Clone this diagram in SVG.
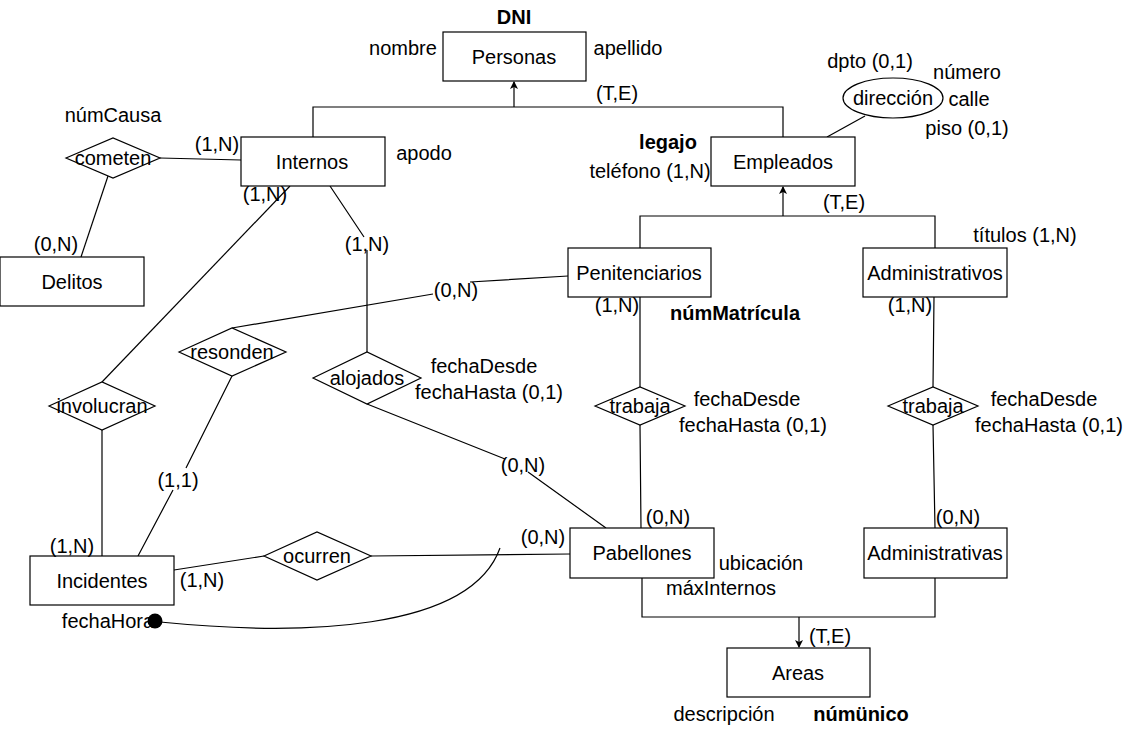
<svg xmlns="http://www.w3.org/2000/svg" width="1130" height="729" viewBox="0 0 1130 729">
<defs>
<style>
text{font-family:"Liberation Sans",Arial,sans-serif;font-size:20px;fill:#000;text-anchor:middle}
.b{font-weight:bold}
.ent{fill:#fff;stroke:#000;stroke-width:1.2}
.rel{fill:#fff;stroke:#000;stroke-width:1.2}
.c{fill:none;stroke:#000;stroke-width:1.2}
</style>
<marker id="arr" markerWidth="8" markerHeight="8" refX="7" refY="4" orient="auto" markerUnits="userSpaceOnUse">
<path d="M0,0 L8,4 L0,8 L2,4 Z" fill="#000"/>
</marker>
</defs>
<rect width="1130" height="729" fill="#fff"/>
<g id="connectors">
<path class="c" d="M313,137 L313,107 L783,107 L783,137"/>
<path class="c" d="M514,107 L514,82" marker-end="url(#arr)"/>
<path class="c" d="M640,248 L640,216 L935,216 L935,248"/>
<path class="c" d="M783,216 L783,187" marker-end="url(#arr)"/>
<path class="c" d="M642,578 L642,617 L935,617 L935,578"/>
<path class="c" d="M799,617 L799,647" marker-end="url(#arr)"/>
<path class="c" d="M827,137 L865,116"/>
<path class="c" d="M160,158 L241,160"/>
<path class="c" d="M108,176 L81,257"/>
<path class="c" d="M102,382 L290,186"/>
<path class="c" d="M102,430 L102,556"/>
<path class="c" d="M330,186 L364,237 M367,250 L367,352"/>
<path class="c" d="M232,328 L433,294 M470,282 L568,276"/>
<path class="c" d="M232,376 L186,468 M173,490 L138,556"/>
<path class="c" d="M367,404 L505,459 M528,472 L606,528"/>
<path class="c" d="M640,297 L640,387 M640,425 L641,528"/>
<path class="c" d="M934,297 L933,387 M933,425 L935,528"/>
<path class="c" d="M174,570 L264,556 M371,556 L570,554"/>
<path class="c" d="M160,622 C300,636 470,632 500,548"/>
<circle cx="155" cy="621" r="7.5" fill="#000"/>
</g>
<g id="personas"><rect class="ent" x="443" y="32" width="143" height="49"/><text x="514" y="64">Personas</text></g>
<g id="internos"><rect class="ent" x="241" y="137" width="144" height="49"/><text x="312" y="169">Internos</text></g>
<g id="empleados"><rect class="ent" x="711" y="137" width="144" height="49"/><text x="783" y="169">Empleados</text></g>
<g id="direccion"><ellipse class="rel" cx="893" cy="98" rx="50" ry="20"/><text x="893" y="105">dirección</text></g>
<g id="penitenciarios"><rect class="ent" x="568" y="248" width="143" height="49"/><text x="639" y="280">Penitenciarios</text></g>
<g id="administrativos"><rect class="ent" x="863" y="248" width="144" height="49"/><text x="935" y="280">Administrativos</text></g>
<g id="delitos"><rect class="ent" x="0" y="257" width="144" height="49"/><text x="72" y="289">Delitos</text></g>
<g id="pabellones"><rect class="ent" x="570" y="528" width="144" height="50"/><text x="642" y="560">Pabellones</text></g>
<g id="administrativas"><rect class="ent" x="864" y="528" width="143" height="50"/><text x="935" y="560">Administrativas</text></g>
<g id="areas"><rect class="ent" x="727" y="648" width="143" height="49"/><text x="798" y="680">Areas</text></g>
<g id="incidentes"><rect class="ent" x="30" y="556" width="144" height="49"/><text x="102" y="588">Incidentes</text></g>
<g id="cometen"><polygon class="rel" points="66,158 113,138 160,158 113,178"/><text x="113" y="165">cometen</text></g>
<g id="involucran"><polygon class="rel" points="49,406 102,382 155,406 102,430"/><text x="102" y="413">involucran</text></g>
<g id="resonden"><polygon class="rel" points="179,352 232,328 286,352 232,376"/><text x="232" y="359">resonden</text></g>
<g id="alojados"><polygon class="rel" points="313,378 367,352 421,378 367,404"/><text x="367" y="385">alojados</text></g>
<g id="trabaja1"><polygon class="rel" points="595,406 640,387 685,406 640,425"/><text x="640" y="413">trabaja</text></g>
<g id="trabaja2"><polygon class="rel" points="888,406 933,387 978,406 933,425"/><text x="933" y="413">trabaja</text></g>
<g id="ocurren"><polygon class="rel" points="264,556 317,532 371,556 317,580"/><text x="317" y="563">ocurren</text></g>
<g id="labels">
<text class="b" x="514" y="24">DNI</text>
<text x="403" y="55">nombre</text>
<text x="628" y="55">apellido</text>
<text x="617" y="100">(T,E)</text>
<text x="870" y="68">dpto (0,1)</text>
<text x="967" y="79">número</text>
<text x="969" y="106">calle</text>
<text x="967" y="135">piso (0,1)</text>
<text class="b" x="668" y="149">legajo</text>
<text x="650" y="178">teléfono (1,N)</text>
<text x="113" y="122">númCausa</text>
<text x="217" y="151">(1,N)</text>
<text x="424" y="160">apodo</text>
<text x="265" y="201">(1,N)</text>
<text x="56" y="251">(0,N)</text>
<text x="367" y="251">(1,N)</text>
<text x="844" y="209">(T,E)</text>
<text x="1025" y="242">títulos (1,N)</text>
<text x="456" y="297">(0,N)</text>
<text x="617" y="312">(1,N)</text>
<text class="b" x="735" y="320">númMatrícula</text>
<text x="910" y="312">(1,N)</text>
<text x="484" y="373">fechaDesde</text>
<text x="489" y="399">fechaHasta (0,1)</text>
<text x="747" y="406">fechaDesde</text>
<text x="753" y="432">fechaHasta (0,1)</text>
<text x="1044" y="406">fechaDesde</text>
<text x="1049" y="432">fechaHasta (0,1)</text>
<text x="523" y="472">(0,N)</text>
<text x="178" y="487">(1,1)</text>
<text x="668" y="524">(0,N)</text>
<text x="958" y="524">(0,N)</text>
<text x="543" y="544">(0,N)</text>
<text x="72" y="553">(1,N)</text>
<text x="761" y="570">ubicación</text>
<text x="202" y="587">(1,N)</text>
<text x="721" y="595">máxInternos</text>
<text x="108" y="628">fechaHora</text>
<text x="830" y="643">(T,E)</text>
<text x="724" y="721">descripción</text>
<text class="b" x="861" y="721">númünico</text>
</g>
</svg>
